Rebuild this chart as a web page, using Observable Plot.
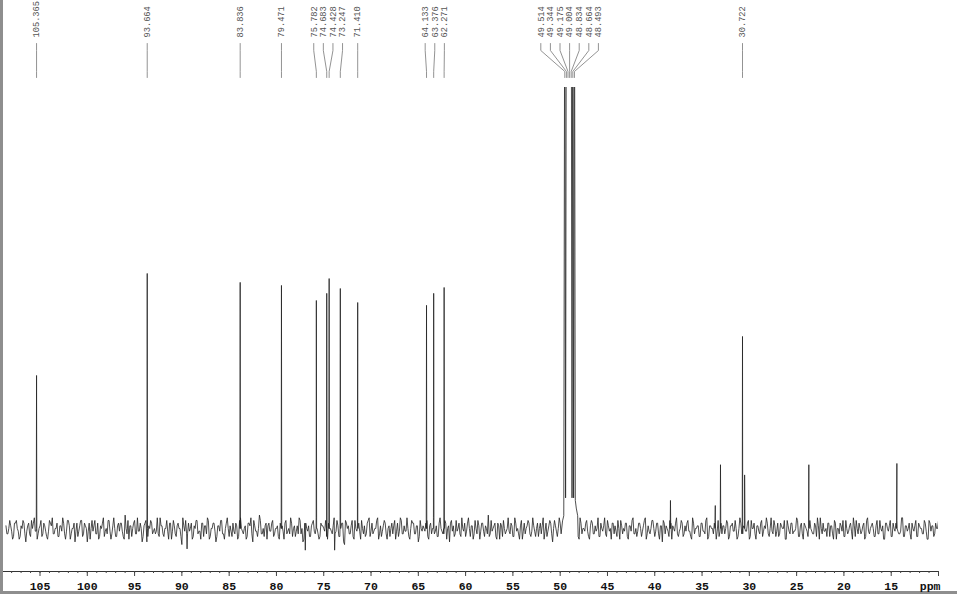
<!DOCTYPE html>
<html><head><meta charset="utf-8">
<script src="https://cdn.jsdelivr.net/npm/d3@7"></script>
<script src="https://cdn.jsdelivr.net/npm/@observablehq/plot@0.6"></script>
<style>
body{margin:0;background:#fff;}
#chart{width:954px;height:591px;border-left:3px solid #8e8e8e;border-bottom:3px solid #8e8e8e;background:#fff;}
#chart svg{display:block;}
</style></head><body><div id="chart"></div>
<script>
// ---- data ----
const labeledPeaks   = [105.365, 93.664, 83.836, 79.471, 75.782, 74.683, 74.428, 73.247, 71.410, 64.133, 63.376, 62.271, 30.722];
const labeledHeights = [60, 100, 96.5, 95.3, 89.4, 92.2, 98, 94.1, 88.6, 87.5, 92.2, 94.5, 75.3];
const solventLines   = [49.514, 49.344, 49.175, 49.004, 48.834, 48.664, 48.493];
const solventHeights = [240, 240, 240, 240, 240, 240, 240];
const solventDips    = [12, 230, 230, 230, 12, 12];
const solventShoulders = [[49.75, 3], [49.62, 5], [48.40, 11], [48.30, 8], [48.15, 5]];
const minorPeaks   = [38.34, 33.6, 33.05, 30.5, 23.71, 14.4];
const minorHeights = [11, 9, 25, 21, 25, 25.5];
const noiseSpikes  = [[89.45, -8], [76.95, -8.5], [73.85, -8.5]];
const noiseStart = 108.6, noiseStep = 0.2;
const noiseA = [
1,-2,3,-1,-3,2,0,-4,1,3,-2,-1,2,-3,0,4,-1,-2,1,-3,
2,-1,-4,3,1,-2,0,2,-3,1,4,-2,-1,3,-4,0,2,-1,-3,1,
3,-2,1,-5,2,0,-1,3,-2,-4,1,2,-3,0,3,-1,-2,4,-3,1,
-1,2,-3,5,-2,-4,1,0,3,-2,-1,2,-5,1,3,-3,0,2,-1,-2,
4,-3,1,-2,0,3,-4,2,-1,1,-3,2,0,-6,1,3,-2,-1,2,-3,
0,3,-1,-4,2,1,-2,3,-3,0,2,-5,1,-1,3,-2,0,4,-3,-1,
2,-2,1,-3,4,-1,0,-4,2,1,-2,3,-1,-3,5,-2,0,1,-4,2,
-1,3,-2,0,-3,2,1,-4,3,-1,-2,2,0,-3,1,4,-2,-5,2,0,
1,-3,2,-1,4,-2,-3,1,0,3,-4,2,-1,1,-2,3,-3,0,2,-6,
2,1,-2,3,-4,0,1,-1,3,-2,-3,2,4,-1,-2,0,3,-4,1,-1,
3,-2,0,-3,2,1,-4,2,-1,3,-2,-1,4,-3,0,2,-2,1,-5,3,
-1,0,2,-3,1,-2,4,-1,-3,2,0,-2,3,-4,1,2,-1,-3,3,0,
-2,4,-1,-3,2,0,1,-4,3,-2,1,-1,2,-3,0,5,-2,-1,1,-3,
2,-4,1,3,-2,0,-1,2,-3,4,-1,-2,1,-4,2,0,3,-2,-1,1,
-3,2,0,-2,4,-1,-3,1,2,-5,3,-1,0,2,-2,1,-3,4,-1,-2,
1,3,-2,-4,2,0,-1,3,-3,1,2,-2,-1,4,-3,0,1,-2,3,-1,
-4,2,1,-3,0,3,-2,-1,2,-4,1,3,-2,0,-1,2,-3,1,4,-2,
-1,0,3,-3,2,-2,1,-5,2,1,-1,3,-4,0,2,-2,-1,3,-3,1,
2,-1,-3,4,-2,0,1,-3,2,-1,3,-4,1,0,-2,3,-1,-3,2,1,
-2,3,-4,1,2,-1,0,-3,4,-2,1,-1,2,-4,3,0,-2,1,-1,2,
-3,1,4,-2,0,-1,3,-3,2,-2,1,0,-4,3,-1,2,-2,-1,4,-3,
1,-2,2,0,-3,3,-1,-2,1,4,-4,0,2,-1,-3,2,1,-2,3,-4,
0,2,-1,-3,3,-2,1,-1,4,-3,0,2,-2,1,-4,3,-1,0,2,-3,
1,-2,3,-1,-4,2,0,1,-3,2,-1,3,-2,-1,4,-3,1,0,-2,2,
-1,3,-3,1,0,-2,2,-4,3,-1,1,-2,0,3,-3,2,-1,-2,1,0
];
const noiseB = [
-2,0,1,-4,2,3,-1,-3,0,2,-5,1,-2,3,2,-1,-4,0,3,-2,
1,-3,-1,2,4,-2,0,-3,1,-1,2,-4,3,1,-2,0,-5,2,-1,3,
-3,2,0,-1,-4,3,1,-2,2,-3,0,4,-1,-2,3,-4,1,0,-3,2,
2,-1,-4,0,3,1,-3,2,-2,4,-1,0,-3,2,-5,1,3,-2,0,-1,
-2,4,1,-3,0,-1,2,-4,3,-2,1,0,-3,4,-1,-2,2,0,-4,1,
3,-2,-1,2,-3,1,4,-4,0,2,-1,-3,1,3,-2,-4,2,0,1,-3,
-1,2,-4,3,0,-2,1,-3,2,4,-5,1,-1,0,3,-2,-3,2,1,-1,
2,-3,0,1,-4,3,-1,2,-2,0,4,-3,1,-1,-2,3,0,-4,2,-1,
-3,1,3,-2,0,-4,2,1,-1,-3,2,0,-2,4,-1,1,-3,2,-5,3,
0,-2,1,-3,3,-1,2,-4,0,1,-2,3,-3,2,-1,0,4,-2,-3,1,
2,-4,1,0,-2,3,-1,-3,4,-2,1,-1,0,-4,3,2,-2,1,-3,0,
1,-1,3,-4,2,0,-2,1,-3,4,-1,-2,2,0,-5,3,1,-2,-1,2,
-3,0,2,-1,4,-3,1,-2,0,3,-4,2,-1,1,-2,-3,3,0,2,-4,
1,2,-3,0,-1,4,-2,1,-3,2,0,-4,3,-1,-2,1,2,-3,4,-1,
0,-3,2,1,-4,2,-1,3,-2,0,1,-3,4,-2,-1,2,-4,1,3,-2,
-1,1,-3,4,-2,0,2,-1,-4,3,-2,1,0,-3,2,-1,4,-3,1,0,
2,-2,-1,3,-4,1,0,2,-3,1,-1,4,-2,-3,2,0,-1,3,-4,1,
-2,3,0,-1,2,-4,1,3,-2,0,-3,2,1,-1,4,-3,0,2,-2,-1,
3,-1,-4,2,0,1,-3,2,-1,-2,4,-3,1,0,2,-4,3,-1,-2,1,
0,2,-3,1,-1,3,-4,0,2,-2,1,-1,3,-3,0,2,-4,1,-2,3,
-1,0,2,-3,4,-2,1,-1,-3,2,0,3,-4,1,-2,2,-1,0,3,-3,
2,-4,1,-1,3,0,-2,2,-3,1,4,-2,-1,0,2,-3,1,-4,2,0,
-2,1,3,-3,0,-1,2,-4,1,3,-2,0,-1,2,-3,4,-2,1,0,-3,
3,-2,0,1,-4,2,-1,3,-3,0,2,-1,-2,4,-3,1,-1,2,-4,0,
1,-3,2,0,-2,3,-1,-4,2,1,-3,2,0,-1,3,-2,1,-3,2,-1
];
const majorTicks = [105,100,95,90,85,80,75,70,65,60,55,50,45,40,35,30,25,20,15,10];
const minorTicks = d3.range(108, 9, -1);

// ---- layout ----
const W = 954, H = 591;
const mL = 0, mR = 19, mT = 87, mB = 20;
const xDomain = [108.86, 10];
const yDomain = [-16.86, 172.9];
const noiseGain = 1.05;
const xs = Plot.scale({x: {domain: xDomain, range: [mL, W - mR]}});
const ys = Plot.scale({y: {domain: yDomain, range: [H - mB, mT]}});
const yAt = px => ys.invert(px);

// ---- spectrum points ----
const solventLo = 48.1, solventHi = 49.8;
let spectrum = [
  ...noiseA.map((v, i) => ({ppm: noiseStart - i * noiseStep, v: v * noiseGain})),
  ...noiseB.map((v, i) => ({ppm: noiseStart - noiseStep / 2 - i * noiseStep, v: v * noiseGain}))
].filter(d => d.ppm < solventLo || d.ppm > solventHi);
noiseSpikes.forEach(([p, v]) => spectrum.push({ppm: p, v}));
function addPeak(p, h) {
  spectrum.push({ppm: p + 0.03, v: 0}, {ppm: p, v: h}, {ppm: p - 0.03, v: 0});
}
labeledPeaks.forEach((p, i) => addPeak(p, labeledHeights[i]));
minorPeaks.forEach((p, i) => addPeak(p, minorHeights[i]));
solventShoulders.forEach(([p, v]) => spectrum.push({ppm: p, v}));
solventLines.forEach((p, i) => {
  spectrum.push({ppm: p, v: solventHeights[i]});
  if (i < solventDips.length) spectrum.push({ppm: (p + solventLines[i + 1]) / 2, v: solventDips[i]});
});
spectrum.sort((a, b) => b.ppm - a.ppm);

// ---- peak labels: spread crowded labels ----
const gap = 9.6;
const items = [...labeledPeaks, ...solventLines]
  .map(p => ({ppm: p, px: xs.apply(p)}))
  .sort((a, b) => a.px - b.px);
let clusters = items.map(d => ({members: [d], center: d.px}));
let merged = true;
while (merged) {
  merged = false;
  for (let i = 0; i < clusters.length - 1; i++) {
    const a = clusters[i], b = clusters[i + 1];
    const aR = a.center + (a.members.length - 1) * gap / 2;
    const bL = b.center - (b.members.length - 1) * gap / 2;
    if (bL - aR < gap) {
      const m = [...a.members, ...b.members];
      clusters.splice(i, 2, {members: m, center: d3.mean(m, d => d.px)});
      merged = true; break;
    }
  }
}
clusters.forEach(c => c.members.forEach((d, j) => {
  d.lx = xs.invert(c.center + (j - (c.members.length - 1) / 2) * gap);
}));
const labels = items.map(d => ({ppm: d.ppm, lx: d.lx, text: d3.format(".3f")(d.ppm), y: yAt(37)}));
const leaders = labels.flatMap((d, i) => [
  {id: i, x: d.lx, y: yAt(43)},
  {id: i, x: d.lx, y: yAt(50)},
  {id: i, x: d.ppm, y: yAt(71)},
  {id: i, x: d.ppm, y: yAt(77)}
]);

const mono = "'Liberation Mono', 'DejaVu Sans Mono', monospace";
const chart = Plot.plot({
  width: W, height: H,
  marginLeft: mL, marginRight: mR, marginTop: mT, marginBottom: mB,
  x: {domain: xDomain, label: null},
  y: {domain: yDomain, axis: null, label: null},
  style: {background: "#fff", color: "#222", overflow: "visible"},
  marks: [
    Plot.line(spectrum, {x: "ppm", y: "v", clip: true, stroke: "#222", strokeWidth: 0.8}),
    Plot.line(leaders, {x: "x", y: "y", z: "id", stroke: "#777", strokeWidth: 0.8}),
    Plot.text(labels, {x: "lx", y: "y", text: "text", rotate: -90, textAnchor: "start", lineAnchor: "middle",
      fontSize: 8.7, fontFamily: mono, fill: "#555"}),
    Plot.ruleY([yDomain[0]], {stroke: "#333", strokeWidth: 1}),
    Plot.axisX({ticks: minorTicks, tickSize: 2, tickFormat: () => "", label: null, stroke: "#444"}),
    Plot.axisX({ticks: majorTicks, tickSize: 5, tickPadding: 5, label: null,
      tickFormat: d => d === 10 ? "" : String(d),
      fontSize: 11.5, fontFamily: mono, fontWeight: "bold", stroke: "#444", fill: "#111"}),
    Plot.text(["ppm"], {frameAnchor: "bottom-right", dx: 2, dy: 18, textAnchor: "end", lineAnchor: "bottom",
      fontSize: 11.5, fontFamily: mono, fontWeight: "bold", fill: "#111"})
  ]
});
document.getElementById("chart").append(chart);
</script>
</body></html>
